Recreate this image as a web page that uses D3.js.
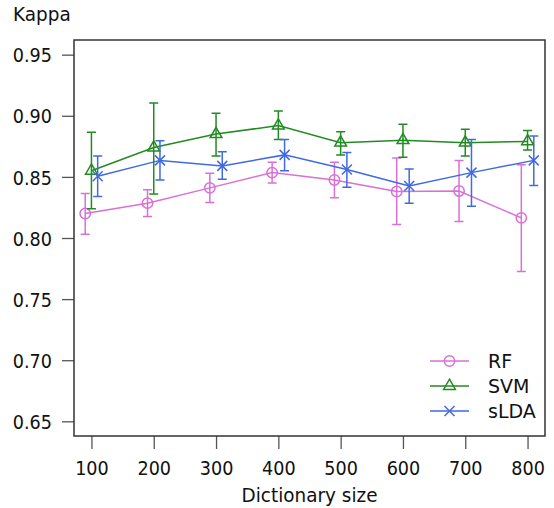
<!DOCTYPE html>
<html>
<head>
<meta charset="utf-8">
<script src="https://cdn.jsdelivr.net/npm/d3@7"></script>
<style>
  html, body { margin: 0; padding: 0; background: #fff; }
  svg { display: block; }
  text { font-family: "DejaVu Sans", sans-serif; fill: #111; }
</style>
</head>
<body>
<svg id="chart" width="554" height="508"></svg>
<script>
// Dictionary sizes on the x axis
const sizes = [100, 200, 300, 400, 500, 600, 700, 800];

// Mean kappa and error-bar bounds for each classifier
const rfMean  = [0.820, 0.8285, 0.841, 0.8535, 0.8475, 0.838, 0.8385, 0.8165];
const rfLow   = [0.803, 0.8175, 0.829, 0.845, 0.833, 0.811, 0.8135, 0.7725];
const rfHigh  = [0.8365, 0.8395, 0.853, 0.862, 0.862, 0.8655, 0.8635, 0.860];

const svmMean = [0.855, 0.874, 0.885, 0.892, 0.878, 0.880, 0.878, 0.879];
const svmLow  = [0.824, 0.836, 0.867, 0.8805, 0.868, 0.866, 0.867, 0.872];
const svmHigh = [0.8865, 0.9105, 0.902, 0.904, 0.887, 0.893, 0.889, 0.888];

const sldaMean = [0.8505, 0.8635, 0.859, 0.868, 0.856, 0.8425, 0.8535, 0.8635];
const sldaLow  = [0.834, 0.8475, 0.848, 0.855, 0.8415, 0.8285, 0.826, 0.843];
const sldaHigh = [0.867, 0.8795, 0.8705, 0.8805, 0.870, 0.8565, 0.8805, 0.8835];

const yTicks = [0.65, 0.70, 0.75, 0.80, 0.85, 0.90, 0.95];

const seriesNames = ["RF", "SVM", "sLDA"];
const seriesColors = ["#DA70D6", "#228B22", "#4169E1"];
const seriesShift = [-10, 0, 10];   // horizontal dodge in data units
const seriesShapes = ["circle", "triangle", "cross"];

const series = [
  { mean: rfMean, low: rfLow, high: rfHigh },
  { mean: svmMean, low: svmLow, high: svmHigh },
  { mean: sldaMean, low: sldaLow, high: sldaHigh }
];

const svg = d3.select("#chart");
const plot = { left: 74, top: 40, right: 545, bottom: 436 };

const x = d3.scaleLinear().domain([72, 828]).range([plot.left, plot.right]);
const y = d3.scaleLinear().domain([0.638, 0.962]).range([plot.bottom, plot.top]);

// Axes
const xAxis = d3.axisBottom(x).tickValues(sizes).tickSize(13).tickFormat(d3.format("d"));
const yAxis = d3.axisLeft(y).tickValues(yTicks).tickSize(12).tickFormat(d3.format(".2f"));

const gx = svg.append("g").attr("transform", `translate(0,${plot.bottom})`).call(xAxis);
const gy = svg.append("g").attr("transform", `translate(${plot.left},0)`).call(yAxis);
[gx, gy].forEach(g => {
  g.select(".domain").remove();
  g.selectAll(".tick line").attr("stroke", "#555").attr("stroke-width", 1.3);
  g.selectAll(".tick text").attr("font-size", 20).attr("fill", "#111")
    .attr("font-family", "DejaVu Sans, sans-serif")
    .attr("x", 0).attr("y", 0);
});
// Tick labels are set slightly narrow
gx.selectAll(".tick text").attr("dy", 0).attr("text-anchor", "middle")
  .attr("transform", "translate(0,39) scale(0.88,1)");
gy.selectAll(".tick text").attr("dy", "0.36em").attr("text-anchor", "end")
  .attr("transform", "translate(-22,0) scale(0.88,1)");

// Plot box
svg.append("rect")
  .attr("x", plot.left).attr("y", plot.top)
  .attr("width", plot.right - plot.left).attr("height", plot.bottom - plot.top)
  .attr("fill", "none").attr("stroke", "#333").attr("stroke-width", 1.5);

// Axis titles
svg.append("text").attr("transform", "translate(13,20.5) scale(0.97,1)")
  .attr("font-size", 19).text("Kappa");
svg.append("text")
  .attr("transform", `translate(${(plot.left + plot.right) / 2},501.5) scale(0.97,1)`)
  .attr("text-anchor", "middle").attr("font-size", 19).text("Dictionary size");

function drawMarker(g, shape, cx, cy, color) {
  if (shape === "circle") {
    g.append("circle").attr("cx", cx).attr("cy", cy).attr("r", 5.2)
      .attr("fill", "none").attr("stroke", color).attr("stroke-width", 1.5);
  } else if (shape === "triangle") {
    const r = 6.8;
    const pts = [[cx, cy - r], [cx + r * 0.866, cy + r / 2], [cx - r * 0.866, cy + r / 2]];
    g.append("polygon").attr("points", pts.map(p => p.join(",")).join(" "))
      .attr("fill", "none").attr("stroke", color).attr("stroke-width", 1.5);
  } else {
    const h = 5;
    g.append("path")
      .attr("d", `M${cx - h},${cy - h}L${cx + h},${cy + h}M${cx - h},${cy + h}L${cx + h},${cy - h}`)
      .attr("stroke", color).attr("stroke-width", 1.5).attr("fill", "none");
  }
}

const line = d3.line();

series.forEach((s, i) => {
  const color = seriesColors[i];
  const g = svg.append("g");
  const xs = sizes.map(d => x(d + seriesShift[i]));

  // Error bars
  sizes.forEach((d, j) => {
    const cx = xs[j];
    const cap = 4.5;
    g.append("path")
      .attr("d", `M${cx},${y(s.low[j])}L${cx},${y(s.high[j])}` +
                 `M${cx - cap},${y(s.low[j])}L${cx + cap},${y(s.low[j])}` +
                 `M${cx - cap},${y(s.high[j])}L${cx + cap},${y(s.high[j])}`)
      .attr("stroke", color).attr("stroke-width", 1.5).attr("fill", "none");
  });

  // Connecting line
  g.append("path")
    .attr("d", line(sizes.map((d, j) => [xs[j], y(s.mean[j])])))
    .attr("stroke", color).attr("stroke-width", 1.5).attr("fill", "none");

  // Point markers
  sizes.forEach((d, j) => drawMarker(g, seriesShapes[i], xs[j], y(s.mean[j]), color));
});

// Legend
const legend = svg.append("g");
seriesNames.forEach((name, i) => {
  const ly = 361 + i * 25;
  legend.append("line").attr("x1", 430).attr("x2", 469).attr("y1", ly).attr("y2", ly)
    .attr("stroke", seriesColors[i]).attr("stroke-width", 1.5);
  drawMarker(legend, seriesShapes[i], 449.5, ly, seriesColors[i]);
  legend.append("text").attr("x", 488).attr("y", ly).attr("dy", "0.36em")
    .attr("font-size", 19).text(name);
});
</script>
</body>
</html>
